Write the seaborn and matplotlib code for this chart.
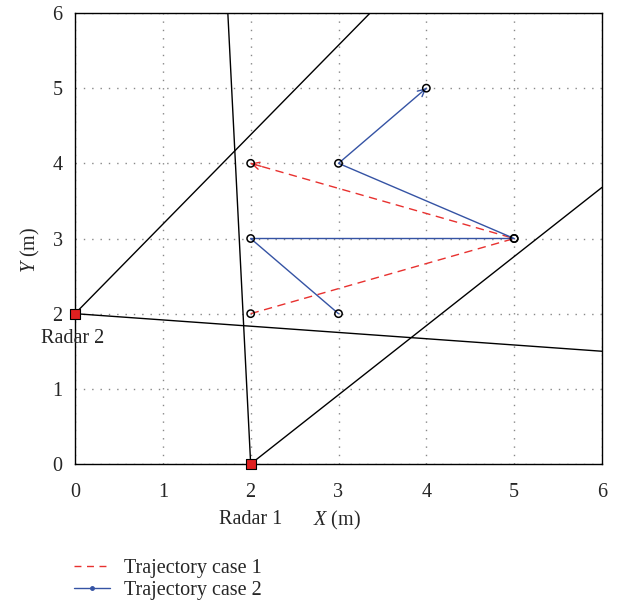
import matplotlib
matplotlib.use("Agg")
import matplotlib.pyplot as plt
import seaborn as sns
import pandas as pd
from matplotlib.lines import Line2D

# Data
case1_x = [2, 5, 2]
case1_y = [2, 3, 4]
case2_x = [3, 2, 5, 3, 4]
case2_y = [2, 3, 3, 4, 5]
radar_x = [2, 0]
radar_y = [0, 2]
radar_names = ["Radar 1", "Radar 2"]
# beam boundary lines
beam1_x = [2, 1.74]
beam1_y = [0, 6]
beam2_x = [2, 6]
beam2_y = [0, 3.68]
beam3_x = [0, 3.36]
beam3_y = [2, 6]
beam4_x = [0, 6]
beam4_y = [2, 1.50]
ticks = [0, 1, 2, 3, 4, 5, 6]

sns.set_style("white")
plt.rcParams['font.family'] = ['Liberation Serif', 'DejaVu Serif']
plt.rcParams['mathtext.fontset'] = 'custom'
plt.rcParams['mathtext.rm'] = 'Liberation Serif'
plt.rcParams['mathtext.it'] = 'Liberation Serif:italic'
FS = 14.5

RED = "#e8312f"
BLUE = "#3553a4"

fig = plt.figure(figsize=(6.18, 6.05), dpi=100)
ax = fig.add_axes([75/618, (605-464)/605, (602-75)/618, (464-13)/605])

for bx, by in [(beam1_x, beam1_y), (beam2_x, beam2_y), (beam3_x, beam3_y), (beam4_x, beam4_y)]:
    sns.lineplot(x=bx, y=by, ax=ax, color="black", lw=1.0, sort=False, estimator=None)

df1 = pd.DataFrame({"x": case1_x, "y": case1_y})
df2 = pd.DataFrame({"x": case2_x, "y": case2_y})
sns.lineplot(data=df1, x="x", y="y", ax=ax, color=RED, lw=1.0, sort=False,
             estimator=None, linestyle=(0, (6, 4)))
sns.lineplot(data=df2, x="x", y="y", ax=ax, color=BLUE, lw=1.0, sort=False, estimator=None)

def arrow_head(xs, ys, color):
    x1, y1 = xs[-1], ys[-1]
    x0, y0 = xs[-2], ys[-2]
    f = 0.04
    ax.annotate("", xy=(x1, y1), xytext=(x1 - f * (x1 - x0), y1 - f * (y1 - y0)),
                arrowprops=dict(arrowstyle="->", color=color, lw=1.0,
                                shrinkA=0, shrinkB=0, mutation_scale=13), zorder=4)

arrow_head(case1_x, case1_y, RED)
arrow_head(case2_x, case2_y, BLUE)

# point markers
pts = pd.DataFrame({"x": case1_x + case2_x, "y": case1_y + case2_y})
sns.scatterplot(data=pts, x="x", y="y", ax=ax, marker="o", s=28,
                facecolor="none", edgecolor="black", linewidth=1.1, zorder=5)

# radars
sns.scatterplot(x=radar_x, y=radar_y, ax=ax, marker="s", s=45, color="#e02020",
                edgecolor="black", linewidth=0.8, zorder=6, clip_on=False)

ax.text(radar_x[0], -0.745, radar_names[0], ha="center", va="center", fontsize=FS)
ax.text(radar_x[1] - 0.03, 1.67, radar_names[1], ha="center", va="center", fontsize=FS)

ax.set_xlim(0, 6)
ax.set_ylim(0, 6)
ax.set_xticks(ticks)
ax.set_yticks(ticks)
ax.tick_params(labelsize=FS, length=0)
ax.tick_params(axis="x", pad=14)
ax.tick_params(axis="y", pad=9)
ax.grid(True, linestyle=(0, (1, 5)), color="#888888", lw=1.0)
for s in ax.spines.values():
    s.set_color("black")
    s.set_linewidth(1.0)

ax.set_xlabel("")
ax.set_ylabel("")
ax.text(2.71, -0.745, "$\\it{X}$ (m)", ha="left", va="center", fontsize=FS)
ax.text(-0.51, 2.85, "$\\it{Y}$ (m)", ha="center", va="center", rotation=90, fontsize=FS)

handles = [Line2D([0], [0], color=RED, lw=1.0, linestyle=(0, (5, 4))),
           Line2D([0], [0], color=BLUE, lw=1.0, marker="o", markersize=2.5, markevery=[0])]
fig.legend(handles, ["Trajectory case 1", "Trajectory case 2"], loc="upper left",
           bbox_to_anchor=(60/618, 1 - 545/605), frameon=False, fontsize=FS,
           handlelength=1.8, handletextpad=0.7, labelspacing=0.15, borderpad=0.2)

fig.savefig("out.png", dpi=100)
